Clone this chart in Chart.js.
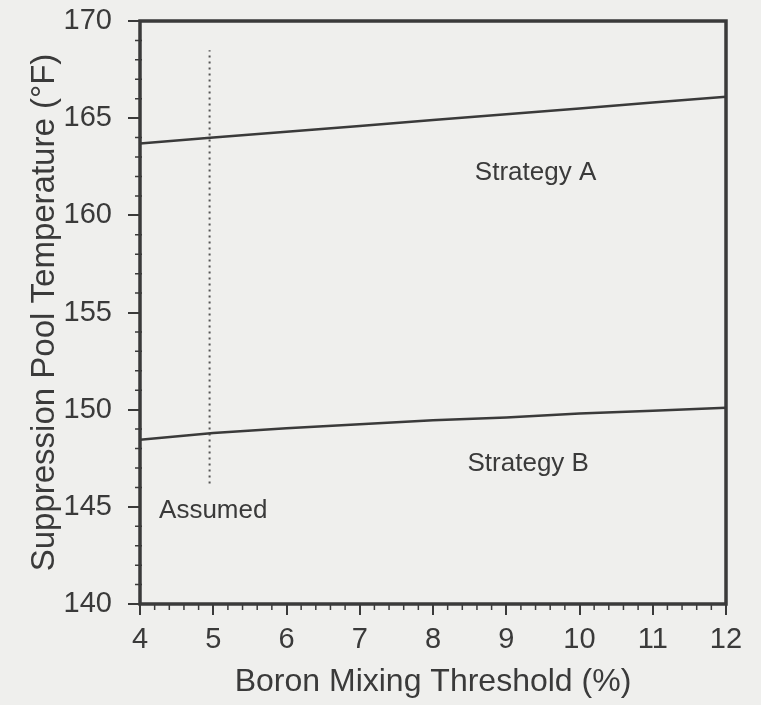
<!DOCTYPE html>
<html>
<head>
<meta charset="utf-8">
<script src="https://cdn.jsdelivr.net/npm/chart.js@4.4.1/dist/chart.umd.min.js"></script>
<style>
  body { margin: 0; background: #efefed; }
  canvas { display: block; }
</style>
</head>
<body>
<canvas id="myChart" width="761" height="705"></canvas>
<script>
// boron mixing threshold (%)
var xValues = [4, 5, 6, 7, 8, 9, 10, 11, 12];
// suppression pool temperature (F)
var strategyA = [163.7, 164.0, 164.3, 164.6, 164.9, 165.2, 165.5, 165.8, 166.1];
var strategyB = [148.45, 148.8, 149.05, 149.25, 149.45, 149.6, 149.8, 149.95, 150.1];
// dotted "assumed" marker
var assumedX = [4.95, 4.95];
var assumedY = [146.2, 168.5];
// text labels inside the plot
var labelText = ['Strategy A', 'Strategy B', 'Assumed'];
var labelX = [9.4, 9.3, 5.0];
var labelY = [162.2, 147.2, 144.8];

var ink = '#3a3a3a';
var font = '"Liberation Sans", Arial, sans-serif';

function pairs(xs, ys) {
  var out = [];
  for (var i = 0; i < xs.length; i++) out.push({x: xs[i], y: ys[i]});
  return out;
}

// frame, minor ticks and the in-plot labels
var extras = {
  id: 'extras',
  afterDatasetsDraw: function(chart) {
    var ctx = chart.ctx;
    var a = chart.chartArea;
    var xs = chart.scales.x, ys = chart.scales.y;
    ctx.save();
    ctx.strokeStyle = ink;
    ctx.lineWidth = 1.5;
    ctx.beginPath();
    for (var v = 4; v <= 12.001; v += 0.2) {
      if (Math.abs(v - Math.round(v)) < 0.01) continue;
      var px = xs.getPixelForValue(v);
      ctx.moveTo(px, a.bottom);
      ctx.lineTo(px, a.bottom + 6);
    }
    for (var w = 140; w <= 170; w += 1) {
      if (w % 5 === 0) continue;
      var py = ys.getPixelForValue(w);
      ctx.moveTo(a.left - 5, py);
      ctx.lineTo(a.left + 2, py);
    }
    ctx.stroke();
    ctx.lineWidth = 3.5;
    ctx.strokeRect(a.left, a.top, a.right - a.left, a.bottom - a.top);
    ctx.fillStyle = ink;
    ctx.font = '26px ' + font;
    ctx.textAlign = 'center';
    ctx.textBaseline = 'middle';
    for (var i = 0; i < labelText.length; i++) {
      ctx.fillText(labelText[i], xs.getPixelForValue(labelX[i]), ys.getPixelForValue(labelY[i]));
    }
    ctx.restore();
  }
};

var ctx = document.getElementById('myChart').getContext('2d');
var myChart = new Chart(ctx, {
  type: 'line',
  data: {
    datasets: [
      { label: 'Strategy A', data: pairs(xValues, strategyA), borderColor: ink, borderWidth: 2.5, pointRadius: 0, tension: 0 },
      { label: 'Strategy B', data: pairs(xValues, strategyB), borderColor: ink, borderWidth: 2.5, pointRadius: 0, tension: 0 },
      { label: 'Assumed', data: pairs(assumedX, assumedY), borderColor: '#555', borderWidth: 2, borderDash: [2, 4], pointRadius: 0 }
    ]
  },
  options: {
    responsive: false,
    animation: false,
    layout: { padding: { top: 21, right: 35, left: 0, bottom: 0 } },
    plugins: { legend: { display: false }, tooltip: { enabled: false } },
    scales: {
      x: {
        type: 'linear',
        min: 4, max: 12,
        ticks: { stepSize: 1, color: ink, font: { family: font, size: 29 }, padding: 8, maxRotation: 0 },
        grid: { drawOnChartArea: false, drawTicks: true, tickLength: 11, color: ink, lineWidth: 2 },
        border: { display: false },
        title: { display: true, text: 'Boron Mixing Threshold (%)', color: ink, font: { family: font, size: 32 }, padding: { top: 0, bottom: 4 } },
        afterFit: function(s) { s.height = 101; s.paddingLeft = 0; s.paddingRight = 0; }
      },
      y: {
        min: 140, max: 170,
        ticks: { stepSize: 5, color: ink, font: { family: font, size: 29 }, padding: 16 },
        grid: { drawOnChartArea: false, drawTicks: true, tickLength: 12, color: ink, lineWidth: 2 },
        border: { display: false },
        title: { display: true, text: 'Suppression Pool Temperature (°F)', color: ink, font: { family: font, size: 33 }, padding: { top: 25, bottom: 0 } },
        afterFit: function(s) { s.width = 140; s.paddingTop = 0; s.paddingBottom = 0; }
      }
    }
  },
  plugins: [extras]
});
</script>
</body>
</html>
